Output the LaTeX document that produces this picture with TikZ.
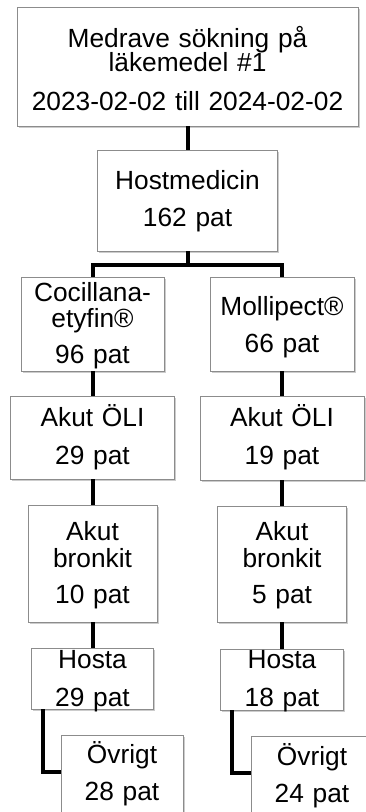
\documentclass[tikz,border=0pt]{standalone}
\usepackage{fontspec}
\setmainfont{Liberation Sans}
\usepackage{xcolor}
\definecolor{Black}{RGB}{0,0,0}
\definecolor{White}{RGB}{255,255,255}
\definecolor{Grey}{RGB}{140,140,140}
\usetikzlibrary{shadows}

\begin{document}
\begin{tikzpicture}[x=1pt, y=-1pt,
		box/.style={draw=Grey, fill=White, line width=0.8pt, anchor=base, align=center, inner sep=0pt, font=\fontsize{26.3}{26}\selectfont, drop shadow={shadow xshift=1.5pt, shadow yshift=-2pt, fill=Black, opacity=0.2}},
		link/.style={-, draw=Black, line width=4pt}]
		
		\useasboundingbox (0,0) rectangle (365,812);
		
		% Search
		\node[box, text width=341pt, text height=40pt, text depth=79pt] (search) at (187.5,47) {Medrave sökning på\\[-2pt]läkemedel \#1\\[13pt]2023-02-02 till 2024-02-02};
		
		\node[box, text width=180pt, text height=39pt, text depth=62pt] (cough) at (187.5,189) {Hostmedicin\\[11pt]162 pat};
		
		% Drugs
		\node[box, text width=143pt, text height=24pt, text depth=70pt] (cocillana) at (92.5,301) {Cocillana-\\etyfin®\\[10pt]96 pat};
		
		\node[box, text width=144pt, text height=38pt, text depth=56pt] (mollipect) at (282,315) {Mollipect®\\[11pt]66 pat};
		
		% Diagnoses, Cocillana
		\node[box, text width=164pt, text height=30pt, text depth=53pt] (oliL) at (92.5,426) {Akut ÖLI\\[12pt]29 pat};
		\node[box, text width=129pt, text height=35pt, text depth=82pt] (bronL) at (92.5,540) {Akut\\[1pt]bronkit\\[10pt]10 pat};
		\node[box, text width=122pt, text height=20pt, text depth=41pt] (hostaL) at (92.5,668) {Hosta\\[12pt]29 pat};
		\node[box, text width=122pt, text height=28pt, text depth=57pt] (otherL) at (122,763) {Övrigt\\[11pt]28 pat};
		
		% Diagnoses, Mollipect
		\node[box, text width=164pt, text height=30pt, text depth=54pt] (oliR) at (282,426) {Akut ÖLI\\[12pt]19 pat};
		\node[box, text width=129pt, text height=34pt, text depth=82pt] (bronR) at (282,540) {Akut\\[1pt]bronkit\\[10pt]5 pat};
		\node[box, text width=123pt, text height=19pt, text depth=42pt] (hostaR) at (282,668) {Hosta\\[12pt]18 pat};
		\node[box, text width=122pt, text height=29pt, text depth=55pt] (otherR) at (312,765) {Övrigt\\[11pt]24 pat};
		
		% Links
		\draw[link] (search.south) -- (cough.north);
		\draw[link] (cough.south) -- ++(0,14) coordinate (split);
		\draw[link] (cocillana.north) |- (split) -| (mollipect.north);
		
		\draw[link] (cocillana.south) -- (oliL.north);
		\draw[link] (oliL.south) -- (bronL.north);
		\draw[link] (bronL.south) -- (hostaL.north);
		\draw[link] ([xshift=12pt]hostaL.south west) |- ([yshift=-9pt]otherL.base west);
		
		\draw[link] (mollipect.south) -- (oliR.north);
		\draw[link] (oliR.south) -- (bronR.north);
		\draw[link] (bronR.south) -- (hostaR.north);
		\draw[link] ([xshift=11.5pt]hostaR.south west) |- ([yshift=-8pt]otherR.base west);
		
	\end{tikzpicture}
\end{document}
